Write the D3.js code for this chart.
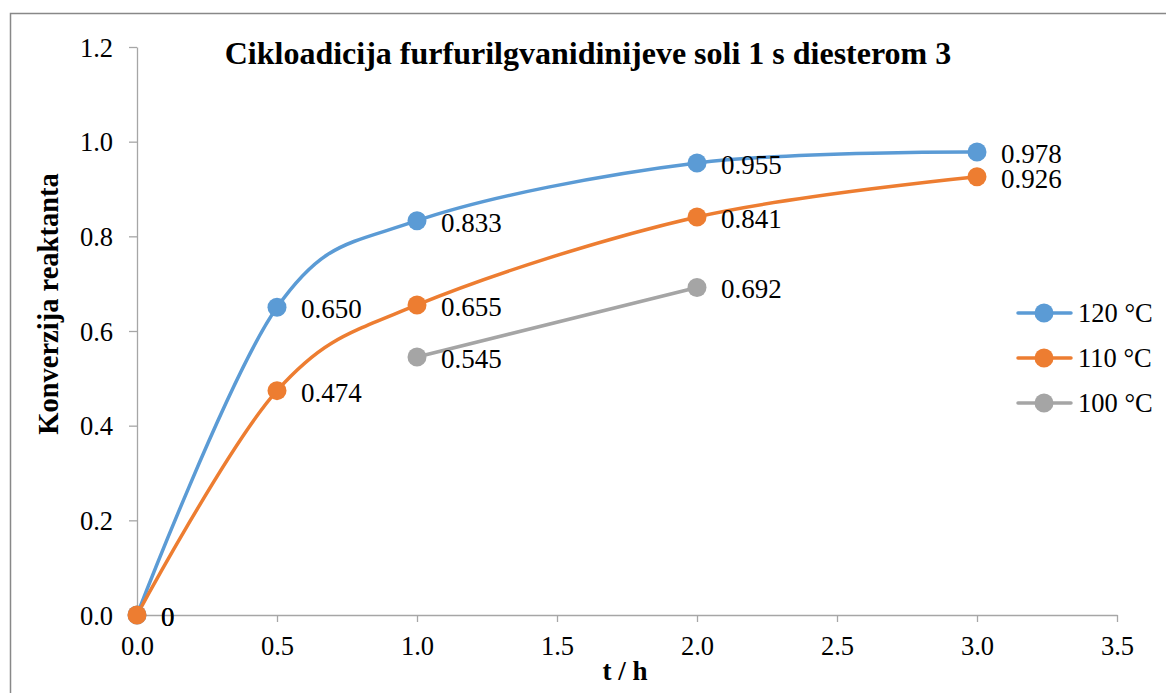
<!DOCTYPE html>
<html>
<head>
<meta charset="utf-8">
<script src="https://cdn.jsdelivr.net/npm/d3@7"></script>
<style>
  body { margin: 0; background: #fff; }
  svg text { font-family: "Liberation Serif", "Times New Roman", Times, serif; }
</style>
</head>
<body>
<script>
var WIDTH = 1166, HEIGHT = 693;
var FONT = '"Liberation Serif", "Times New Roman", Times, serif';

// data
var times120 = [0, 0.5, 1, 2, 3];
var conv120 = [0, 0.650, 0.833, 0.955, 0.978];
var times110 = [0, 0.5, 1, 2, 3];
var conv110 = [0, 0.474, 0.655, 0.841, 0.926];
var times100 = [1, 2];
var conv100 = [0.545, 0.692];
var seriesNames = ['120 °C', '110 °C', '100 °C'];
var seriesColors = ['#5B9BD5', '#ED7D31', '#A5A5A5'];
var xTicks = [0, 0.5, 1, 1.5, 2, 2.5, 3, 3.5];
var yTicks = [0, 0.2, 0.4, 0.6, 0.8, 1.0, 1.2];

var series = [
    { name: seriesNames[0], color: seriesColors[0], pts: times120.map((t, i) => ({ t: t, v: conv120[i] })) },
    { name: seriesNames[1], color: seriesColors[1], pts: times110.map((t, i) => ({ t: t, v: conv110[i] })) },
    { name: seriesNames[2], color: seriesColors[2], pts: times100.map((t, i) => ({ t: t, v: conv100[i] })) }
];

var svg = d3.select('body').append('svg').attr('width', WIDTH).attr('height', HEIGHT)
    .style('font-family', FONT);

svg.append('rect')
    .attr('x', 10.5).attr('y', 13.5)
    .attr('width', 1180).attr('height', 700)
    .attr('fill', 'none').attr('stroke', '#888').attr('stroke-width', 1.5);

var x = d3.scaleLinear().domain([0, 3.5]).range([137, 1117]);
var y = d3.scaleLinear().domain([0, 1.2]).range([615, 47]);

var xAxis = svg.append('g')
    .attr('transform', 'translate(0,' + y(0) + ')')
    .call(d3.axisBottom(x).tickValues(xTicks).tickFormat(d3.format('.1f')).tickSizeInner(7).tickSizeOuter(0).tickPadding(14));
var yAxis = svg.append('g')
    .attr('transform', 'translate(' + x(0) + ',0)')
    .call(d3.axisLeft(y).tickValues(yTicks).tickFormat(d3.format('.1f')).tickSizeInner(8).tickSizeOuter(0).tickPadding(16));

[xAxis, yAxis].forEach(function (ax) {
    ax.attr('font-family', null);
    ax.selectAll('path, line').attr('stroke', '#a6a6a6').attr('stroke-width', 1.3);
    ax.selectAll('text').attr('font-size', 26.5).attr('fill', '#000');
});
yAxis.selectAll('text').attr('dy', '0.34em');

svg.append('text')
    .attr('x', 588).attr('y', 64)
    .attr('text-anchor', 'middle')
    .attr('font-size', 32).attr('font-weight', 'bold')
    .text('Cikloadicija furfurilgvanidinijeve soli 1 s diesterom 3');

svg.append('text')
    .attr('x', 625).attr('y', 680)
    .attr('text-anchor', 'middle')
    .attr('font-size', 27).attr('font-weight', 'bold')
    .text('t / h');

svg.append('text')
    .attr('transform', 'translate(58,304) rotate(-90)')
    .attr('text-anchor', 'middle')
    .attr('font-size', 28.5).attr('font-weight', 'bold')
    .text('Konverzija reaktanta');

var line = d3.line()
    .x(d => x(d.t))
    .y(d => y(d.v))
    .curve(d3.curveCardinal.tension(0));

var g = svg.append('g');
series.forEach(function (s) {
    g.append('path')
        .attr('d', line(s.pts))
        .attr('fill', 'none')
        .attr('stroke', s.color)
        .attr('stroke-width', 3.5)
        .attr('stroke-linecap', 'round');
});
series.forEach(function (s) {
    g.selectAll(null).data(s.pts).enter().append('circle')
        .attr('cx', d => x(d.t)).attr('cy', d => y(d.v))
        .attr('r', 9.5).attr('fill', s.color);
});
series.forEach(function (s) {
    g.selectAll(null).data(s.pts).enter().append('text')
        .attr('x', d => x(d.t) + 24).attr('y', d => y(d.v) + 11)
        .attr('font-size', 27)
        .text(d => d.v === 0 ? '0' : d3.format('.3f')(d.v));
});

var legend = svg.append('g');
series.forEach(function (s, i) {
    var ly = 313 + i * 45;
    legend.append('line')
        .attr('x1', 1018).attr('x2', 1071).attr('y1', ly).attr('y2', ly)
        .attr('stroke', s.color).attr('stroke-width', 3.5).attr('stroke-linecap', 'round');
    legend.append('circle').attr('cx', 1044).attr('cy', ly).attr('r', 9.5).attr('fill', s.color);
    legend.append('text').attr('x', 1078).attr('y', ly + 9)
        .attr('font-size', 26.5).text(s.name);
});
</script>
</body>
</html>
